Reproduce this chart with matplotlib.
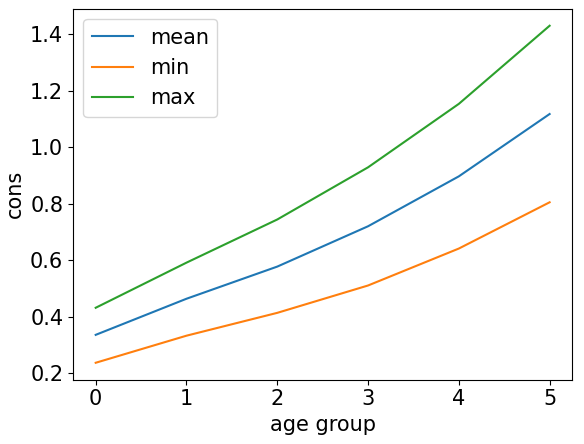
import matplotlib
matplotlib.use("Agg")
import matplotlib.pyplot as plt

age = [0, 1, 2, 3, 4, 5]
mean = [0.335, 0.463, 0.577, 0.720, 0.897, 1.118]
mn = [0.236, 0.332, 0.413, 0.510, 0.641, 0.805]
mx = [0.431, 0.591, 0.744, 0.929, 1.154, 1.431]

plt.rcParams['font.size'] = 15
fig, ax = plt.subplots(figsize=(5.84, 4.44), dpi=100)
ax.plot(age, mean, label='mean')
ax.plot(age, mn, label='min')
ax.plot(age, mx, label='max')
ax.set_xlabel('age group')
ax.set_ylabel('cons')
ax.legend(loc='upper left')
fig.subplots_adjust(left=0.125, right=0.98, top=0.98, bottom=0.145)
fig.savefig('out.png')
